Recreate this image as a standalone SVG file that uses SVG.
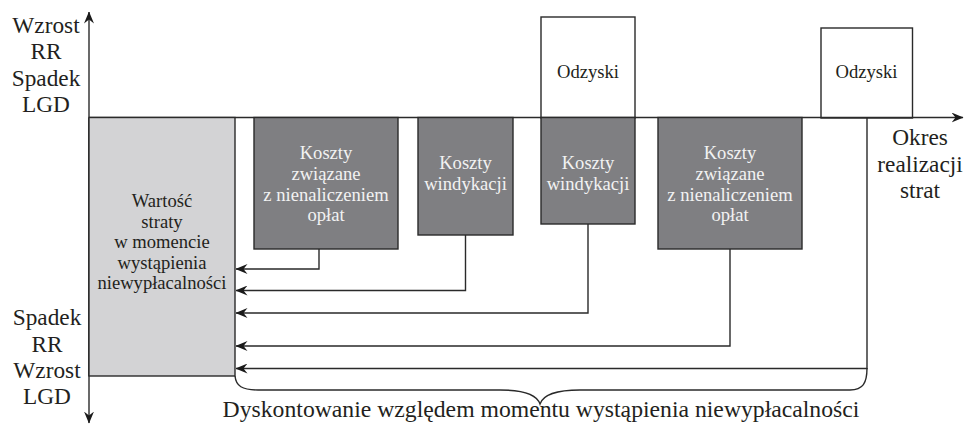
<svg xmlns="http://www.w3.org/2000/svg" width="965" height="430" viewBox="0 0 965 430">
<defs>
<style>
.t{font-family:'Liberation Serif','Times New Roman','DejaVu Serif',serif;fill:#231f20;text-anchor:middle}
.big{font-size:23.3px}
.sm{font-size:18.6px}
.w{fill:#f2f2f2}
.ln{stroke:#2a2a2a;stroke-width:1.4;fill:none}
.dark{fill:#7f7f82;stroke:#2a2a2a;stroke-width:1.4}
.light{fill:#d3d3d5;stroke:#2a2a2a;stroke-width:1.4}
.open{fill:#ffffff;stroke:#2a2a2a;stroke-width:1.4}
</style>
<marker id="ax" viewBox="0 0 12 10" refX="11.5" refY="5" markerWidth="12" markerHeight="10" markerUnits="userSpaceOnUse" orient="auto">
<path d="M12,5 L0,0 L4,5 L0,10 Z" fill="#1a1a1a"/>
</marker>
</defs>
<rect width="965" height="430" fill="#ffffff"/>

<g id="odzyski1">
<rect class="open" x="541" y="17" width="94" height="101"/>
<text class="t sm" x="588" y="78">Odzyski</text>
</g>
<g id="odzyski2">
<rect class="open" x="821" y="28" width="91.5" height="90"/>
<text class="t sm" x="866.5" y="78">Odzyski</text>
</g>

<g id="axes">
<line class="ln" x1="89" y1="117.5" x2="963" y2="117.5" stroke-width="1.6" marker-end="url(#ax)"/>
<line class="ln" x1="89" y1="376" x2="89" y2="12" stroke-width="1.6" marker-end="url(#ax)"/>
<line class="ln" x1="89" y1="118" x2="89" y2="423" stroke-width="1.6" marker-end="url(#ax)"/>
</g>

<g id="wartosc">
<rect class="light" x="89" y="117.5" width="146" height="258.5"/>
<text class="t sm" x="162" y="207">Wartość</text>
<text class="t sm" x="162" y="227.5">straty</text>
<text class="t sm" x="162" y="248">w momencie</text>
<text class="t sm" x="162" y="268.5">wystąpienia</text>
<text class="t sm" x="162" y="289">niewypłacalności</text>
</g>

<g id="koszty1">
<rect class="dark" x="254" y="117.5" width="144" height="131.5"/>
<text class="t sm w" x="326" y="159">Koszty</text>
<text class="t sm w" x="326" y="180">związane</text>
<text class="t sm w" x="326" y="200.5">z nienaliczeniem</text>
<text class="t sm w" x="326" y="221">opłat</text>
</g>
<g id="windykacja1">
<rect class="dark" x="418" y="117.5" width="95" height="117.5"/>
<text class="t sm w" x="465.5" y="169">Koszty</text>
<text class="t sm w" x="465.5" y="190">windykacji</text>
</g>
<g id="windykacja2">
<rect class="dark" x="541" y="117.5" width="94" height="106.5"/>
<text class="t sm w" x="588" y="169">Koszty</text>
<text class="t sm w" x="588" y="190">windykacji</text>
</g>
<g id="koszty2">
<rect class="dark" x="658" y="117.5" width="144" height="131.5"/>
<text class="t sm w" x="730" y="159">Koszty</text>
<text class="t sm w" x="730" y="180">związane</text>
<text class="t sm w" x="730" y="200.5">z nienaliczeniem</text>
<text class="t sm w" x="730" y="221">opłat</text>
</g>

<g id="connectors">
<polyline class="ln" points="319,249 319,269 236,269" marker-end="url(#ax)"/>
<polyline class="ln" points="465.5,235 465.5,290.5 236,290.5" marker-end="url(#ax)"/>
<polyline class="ln" points="588,224 588,313 236,313" marker-end="url(#ax)"/>
<polyline class="ln" points="730,249 730,346 236,346" marker-end="url(#ax)"/>
<polyline class="ln" points="867,118 867,368.5 236,368.5" marker-end="url(#ax)"/>
<path class="ln" d="M235,376 C236,386 242,390 258,390 L500,390 C525,390 537,395 540,404 C543,395 555,390 580,390 L850,390 C863,390 867,383 867,368"/>
</g>

<g id="labels">
<text class="t big" x="46" y="33">Wzrost</text>
<text class="t big" x="46" y="59">RR</text>
<text class="t big" x="46" y="85.5">Spadek</text>
<text class="t big" x="46" y="111.5">LGD</text>
<text class="t big" x="47" y="325">Spadek</text>
<text class="t big" x="47" y="351.5">RR</text>
<text class="t big" x="47" y="378">Wzrost</text>
<text class="t big" x="47" y="404">LGD</text>
<text class="t big" x="920" y="145">Okres</text>
<text class="t big" x="920" y="171.5">realizacji</text>
<text class="t big" x="920" y="198">strat</text>
<text class="t big" x="541" y="417" style="font-size:23.7px">Dyskontowanie względem momentu wystąpienia niewypłacalności</text>
</g>
</svg>
